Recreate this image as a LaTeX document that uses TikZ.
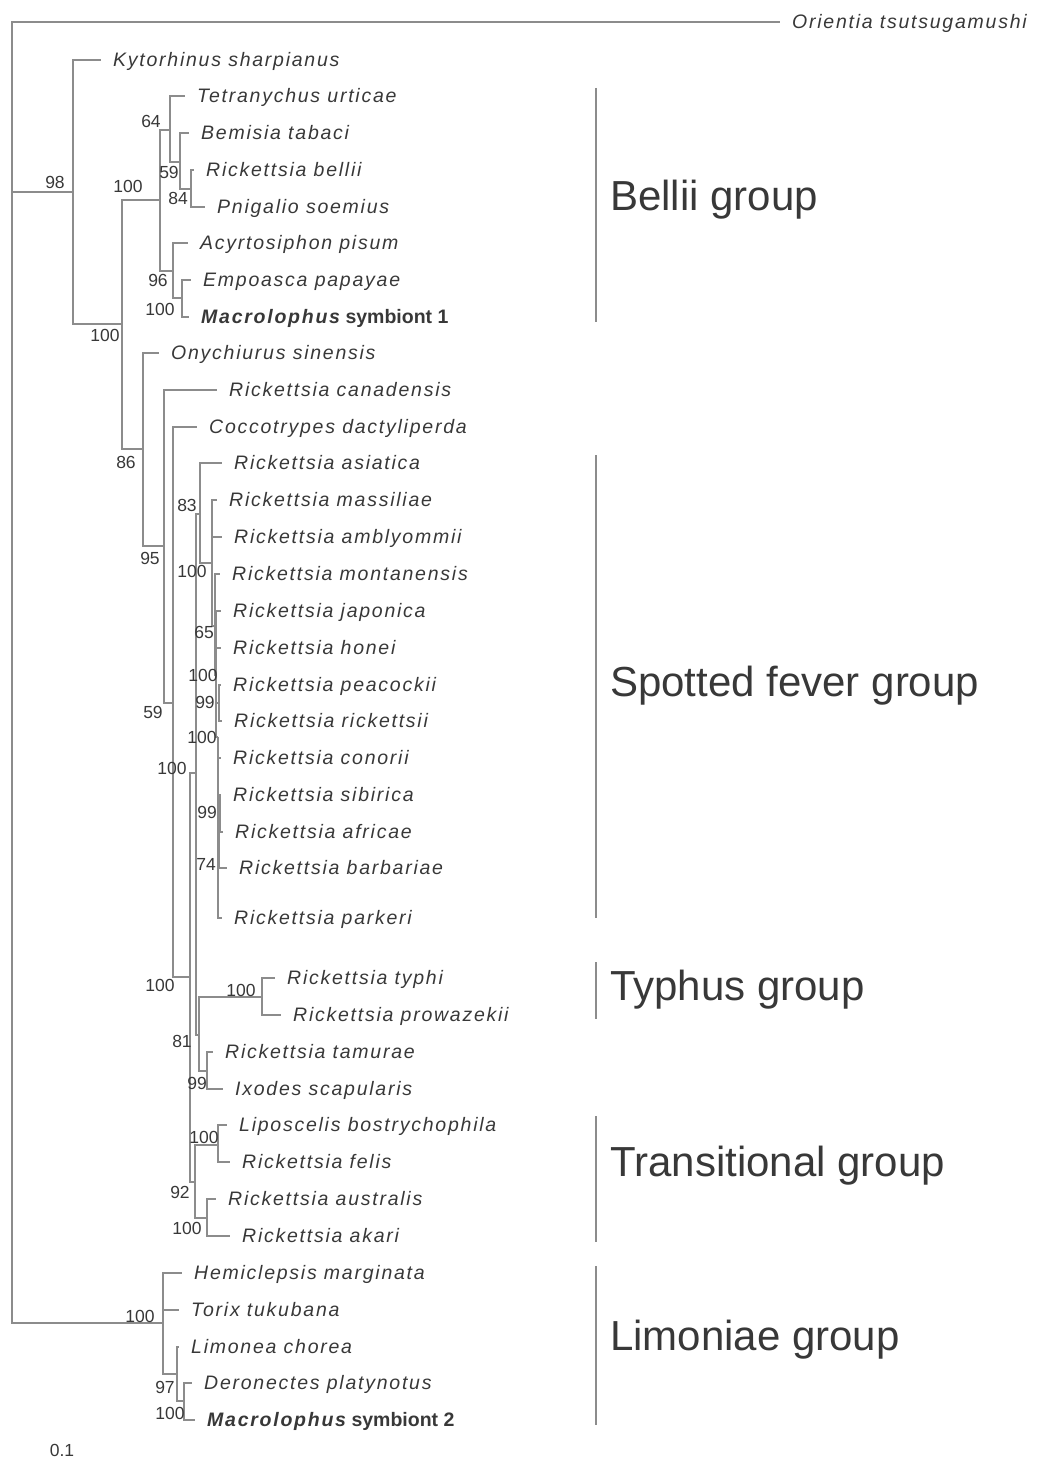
\documentclass[tikz,border=0pt]{standalone}
\usepackage{fontspec}
\setmainfont{Liberation Sans}
\newfontfamily\spfont{Liberation Sans}[LetterSpace=9]
\definecolor{treegray}{HTML}{8C8C8C}
\definecolor{inkgray}{HTML}{383838}
\tikzset{
  branch/.style={draw=treegray, line width=1.2pt},
  taxon/.style={anchor=west, inner xsep=12pt, inner ysep=0pt, text height=13pt, text depth=0pt,
    text=inkgray, font=\fontsize{19.5}{22}\selectfont\spfont\itshape},
  boot/.style={inner sep=0pt, text=inkgray, font=\fontsize{17.5}{19}\selectfont},
  clade/.style={anchor=west, inner sep=0pt, text=inkgray, font=\fontsize{42}{45}\selectfont},
  cladebar/.style={draw=treegray, line width=1.2pt}
}
\newcommand{\symb}[1]{{\bfseries Macrolophus}{\normalfont\bfseries\ symbiont #1}}

\begin{document}
\begin{tikzpicture}[x=1pt,y=-1pt]
\useasboundingbox (0,0) rectangle (1037,1458);

% taxa
\node[taxon] (ori) at (780,22) {Orientia tsutsugamushi};
\node[taxon] (kyt) at (101,60) {Kytorhinus sharpianus};
\node[taxon] (tet) at (185,96) {Tetranychus urticae};
\node[taxon] (bem) at (189,133) {Bemisia tabaci};
\node[taxon] (bel) at (194,170) {Rickettsia bellii};
\node[taxon] (png) at (205,207) {Pnigalio soemius};
\node[taxon] (acy) at (188,243) {Acyrtosiphon pisum};
\node[taxon] (emp) at (191,280) {Empoasca papayae};
\node[taxon] (mac1) at (189,317) {\symb{1}};
\node[taxon] (ony) at (159,353) {Onychiurus sinensis};
\node[taxon] (can) at (217,390) {Rickettsia canadensis};
\node[taxon] (coc) at (197,427) {Coccotrypes dactyliperda};
\node[taxon] (asi) at (222,463) {Rickettsia asiatica};
\node[taxon] (mas) at (217,500) {Rickettsia massiliae};
\node[taxon] (amb) at (222,537) {Rickettsia amblyommii};
\node[taxon] (mon) at (220,574) {Rickettsia montanensis};
\node[taxon] (jap) at (221,611) {Rickettsia japonica};
\node[taxon] (hon) at (221,648) {Rickettsia honei};
\node[taxon] (pea) at (221,685) {Rickettsia peacockii};
\node[taxon] (ric) at (222,721) {Rickettsia rickettsii};
\node[taxon] (con) at (221,758) {Rickettsia conorii};
\node[taxon] (sib) at (221,795) {Rickettsia sibirica};
\node[taxon] (afr) at (223,832) {Rickettsia africae};
\node[taxon] (bar) at (227,868) {Rickettsia barbariae};
\node[taxon] (par) at (222,918) {Rickettsia parkeri};
\node[taxon] (typ) at (275,978) {Rickettsia typhi};
\node[taxon] (pro) at (281,1015) {Rickettsia prowazekii};
\node[taxon] (tam) at (213,1052) {Rickettsia tamurae};
\node[taxon] (ixo) at (223,1089) {Ixodes scapularis};
\node[taxon] (lip) at (227,1125) {Liposcelis bostrychophila};
\node[taxon] (fel) at (230,1162) {Rickettsia felis};
\node[taxon] (aus) at (216,1199) {Rickettsia australis};
\node[taxon] (aka) at (230,1236) {Rickettsia akari};
\node[taxon] (hem) at (182,1273) {Hemiclepsis marginata};
\node[taxon] (tor) at (179,1310) {Torix tukubana};
\node[taxon] (lim) at (179,1347) {Limonea chorea};
\node[taxon] (der) at (192,1383) {Deronectes platynotus};
\node[taxon] (mac2) at (195,1420) {\symb{2}};

% inner nodes of the tree
\coordinate (root) at (12,672);
\coordinate (n98) at (73,192);
\coordinate (nA) at (122,324);
\coordinate (nB) at (160,200);
\coordinate (n64) at (170,130);
\coordinate (n59) at (180,162);
\coordinate (n84) at (191,189);
\coordinate (n96) at (173,271);
\coordinate (nM1) at (182,298);
\coordinate (n86) at (143,449);
\coordinate (n95) at (164,546);
\coordinate (n59b) at (173,703);
\coordinate (nR) at (190,977);
\coordinate (nS) at (196,773);
\coordinate (n83) at (200,514);
\coordinate (nT) at (212,563);
\coordinate (n65) at (215,626);
\coordinate (nU) at (216,675);
\coordinate (n99a) at (219,703);
\coordinate (nV) at (218,737);
\coordinate (n74) at (219,842);
\coordinate (n99b) at (220,813);
\coordinate (n81) at (199,1035);
\coordinate (nTy) at (262,997);
\coordinate (n99c) at (207,1071);
\coordinate (n92) at (195,1182);
\coordinate (nL) at (218,1145);
\coordinate (nAu) at (207,1218);
\coordinate (nLim) at (163,1323);
\coordinate (n97) at (177,1374);
\coordinate (nM2) at (184,1401);

% branches
\draw[branch] (root) |- (ori.west) (root) |- (n98) (root) |- (nLim);
\draw[branch] (n98) |- (kyt.west) (n98) |- (nA);
\draw[branch] (nA) |- (nB) (nA) |- (n86);
\draw[branch] (nB) |- (n64) (nB) |- (n96);
\draw[branch] (n64) |- (tet.west) (n64) |- (n59);
\draw[branch] (n59) |- (bem.west) (n59) |- (n84);
\draw[branch] (n84) |- (bel.west) (n84) |- (png.west);
\draw[branch] (n96) |- (acy.west) (n96) |- (nM1);
\draw[branch] (nM1) |- (emp.west) (nM1) |- (mac1.west);
\draw[branch] (n86) |- (ony.west) (n86) |- (n95);
\draw[branch] (n95) |- (can.west) (n95) |- (n59b);
\draw[branch] (n59b) |- (coc.west) (n59b) |- (nR);
\draw[branch] (nR) |- (nS) (nR) |- (n92);
\draw[branch] (nS) |- (n83) (nS) |- (n81);
\draw[branch] (n83) |- (asi.west) (n83) |- (nT);
\draw[branch] (nT) |- (mas.west) (nT) |- (amb.west) (nT) |- (n65);
\draw[branch] (n65) |- (mon.west) (n65) |- (nU);
\draw[branch] (nU) |- (jap.west) (nU) |- (hon.west) (nU) |- (n99a) (nU) |- (nV);
\draw[branch] (n99a) |- (pea.west) (n99a) |- (ric.west);
\draw[branch] (nV) |- (con.west) (nV) |- (n74) (nV) |- (par.west);
\draw[branch] (n74) |- (n99b) (n74) |- (bar.west);
\draw[branch] (n99b) |- (sib.west) (n99b) |- (afr.west);
\draw[branch] (n81) |- (nTy) (n81) |- (n99c);
\draw[branch] (nTy) |- (typ.west) (nTy) |- (pro.west);
\draw[branch] (n99c) |- (tam.west) (n99c) |- (ixo.west);
\draw[branch] (n92) |- (nL) (n92) |- (nAu);
\draw[branch] (nL) |- (lip.west) (nL) |- (fel.west);
\draw[branch] (nAu) |- (aus.west) (nAu) |- (aka.west);
\draw[branch] (nLim) |- (hem.west) (nLim) |- (tor.west) (nLim) |- (n97);
\draw[branch] (n97) |- (lim.west) (n97) |- (nM2);
\draw[branch] (nM2) |- (der.west) (nM2) |- (mac2.west);

% bootstrap values
\node[boot] (b1) at (55,182) {98};
\node[boot] (b2) at (105,335) {100};
\node[boot] (b3) at (128,186) {100};
\node[boot] (b4) at (151,121) {64};
\node[boot] (b5) at (169,172) {59};
\node[boot] (b6) at (178,198) {84};
\node[boot] (b7) at (158,280) {96};
\node[boot] (b8) at (160,309) {100};
\node[boot] (b9) at (126,462) {86};
\node[boot] (b10) at (150,558) {95};
\node[boot] (b11) at (187,505) {83};
\node[boot] (b12) at (192,571) {100};
\node[boot] (b13) at (204,632) {65};
\node[boot] (b14) at (203,675) {100};
\node[boot] (b15) at (205,702) {99};
\node[boot] (b16) at (202,737) {100};
\node[boot] (b17) at (153,712) {59};
\node[boot] (b18) at (172,768) {100};
\node[boot] (b19) at (207,812) {99};
\node[boot] (b20) at (206,864) {74};
\node[boot] (b21) at (160,985) {100};
\node[boot] (b22) at (241,990) {100};
\node[boot] (b23) at (182,1041) {81};
\node[boot] (b24) at (197,1083) {99};
\node[boot] (b25) at (204,1137) {100};
\node[boot] (b26) at (180,1192) {92};
\node[boot] (b27) at (187,1228) {100};
\node[boot] (b28) at (140,1316) {100};
\node[boot] (b29) at (165,1387) {97};
\node[boot] (b30) at (170,1413) {100};
\node[boot] (scale) at (62,1450) {0.1};

% groups
\draw[cladebar] (596,88) -- (596,322);
\draw[cladebar] (596,455) -- (596,918);
\draw[cladebar] (596,962) -- (596,1019);
\draw[cladebar] (596,1116) -- (596,1242);
\draw[cladebar] (596,1266) -- (596,1425);
\node[clade] (gbel) at (610,200) {Bellii group};
\node[clade] (gsfg) at (610,686) {Spotted fever group};
\node[clade] (gtyp) at (610,990) {Typhus group};
\node[clade] (gtra) at (610,1166) {Transitional group};
\node[clade] (glim) at (610,1340) {Limoniae group};
\end{tikzpicture}
\end{document}
